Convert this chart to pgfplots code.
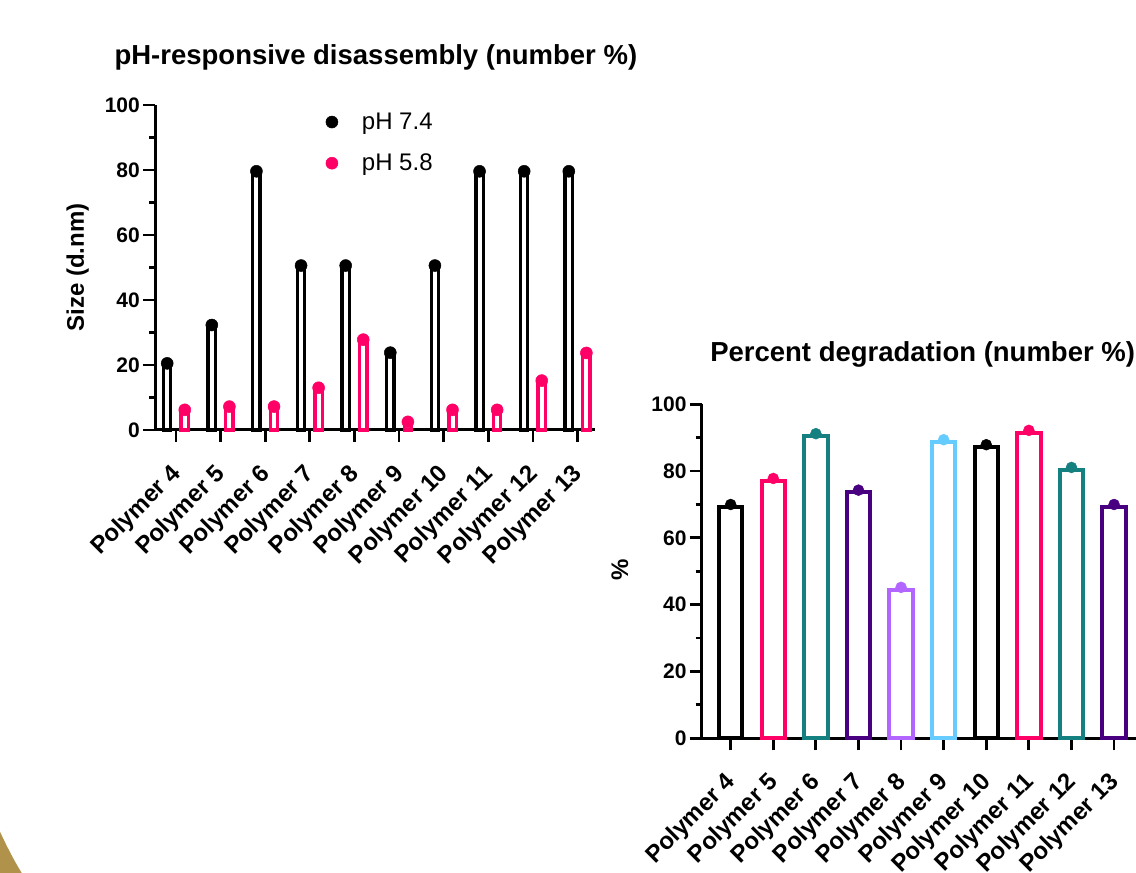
\documentclass[border=0pt]{standalone}
\usepackage{fontspec}
\setmainfont{Liberation Sans}
\usepackage{pgfplots}
\usepackage{pgfplotstable}
\pgfplotsset{compat=1.18}
\definecolor{pk}{RGB}{255,0,102}
\definecolor{tl}{RGB}{20,128,128}
\definecolor{pu}{RGB}{72,0,128}
\definecolor{lv}{RGB}{178,102,255}
\definecolor{lb}{RGB}{102,204,255}
\definecolor{gd}{RGB}{176,146,74}
\newcommand\fs[1]{\fontsize{#1}{#1}\selectfont}

\pgfplotstableread{
x b74 b58
0 20.5 6.2
1 32.3 7.2
2 79.6 7.2
3 50.6 13.0
4 50.6 27.8
5 23.8 2.5
6 50.6 6.2
7 79.6 6.2
8 79.6 15.2
9 79.6 23.7
}\phdata

\pgfplotsset{
  base/.style={
    scale only axis,
    axis x line=bottom, axis y line=left,
    axis line style={-, line width=3pt},
    tick align=outside,
    major tick length=12pt, minor tick length=6pt,
    every tick/.style={black, line width=2.8pt},
    minor y tick num=1,
    ymin=0, ymax=100, ytick={0,20,...,100},
    xtick={0,...,9},
    xticklabels={Polymer 4,Polymer 5,Polymer 6,Polymer 7,Polymer 8,Polymer 9,Polymer 10,Polymer 11,Polymer 12,Polymer 13},
    xticklabel style={rotate=45, anchor=north east, font=\fs{24}\bfseries, inner sep=2pt, xshift=-17pt, yshift=-7.5pt},
    yticklabel style={font=\fs{21}\bfseries, inner sep=3pt},
    /pgf/number format/assume math mode=true,
    clip=false,
  }
}

\begin{document}
\begin{tikzpicture}
\useasboundingbox (0pt,0pt) rectangle (1136pt,873pt);
\fill[gd] (0pt,41.3pt) .. controls (8pt,24pt) and (15pt,11pt) .. (21.7pt,0pt) -- (0pt,0pt) -- cycle;

\begin{axis}[base,
  at={(155pt,443pt)}, anchor=south west,
  width=440pt, height=325pt,
  xmin=-0.47, xmax=9.39,
  ylabel={Size (d.nm)},
  ylabel style={at={(axis description cs:-0.176,0.5)}, anchor=center, font=\fs{24}\bfseries},
  title={pH-responsive disassembly (number \%)},
  title style={at={(axis description cs:0.502,1.105)}, anchor=base, font=\fs{27.5}\bfseries},
  legend style={draw=none, fill=none, at={(axis description cs:0.388,0.982)}, anchor=north west,
    font=\fs{24}, row sep=19pt, column sep=22pt, inner sep=0pt},
  legend cell align=left,
  legend image code/.code={\draw[#1] plot coordinates {(0pt,0pt)};},
]
\addplot[ybar, bar width=7.3pt, bar shift=-8.8pt, draw=black, fill=white, line width=3.3pt, forget plot]
  table[x=x, y=b74] {\phdata};
\addplot[ybar, bar width=7.3pt, bar shift=8.8pt, draw=pk, fill=white, line width=3.3pt, forget plot]
  table[x=x, y=b58] {\phdata};
\addplot[only marks, mark=*, mark size=6pt, black, mark options={fill=black, draw=black, line width=0.5pt}]
  table[x expr=\thisrow{x}-0.197, y=b74] {\phdata};
\addlegendentry{pH 7.4}
\addplot[only marks, mark=*, mark size=6pt, pk, mark options={fill=pk, draw=pk, line width=0.5pt}]
  table[x expr=\thisrow{x}+0.197, y=b58] {\phdata};
\addlegendentry{pH 5.8}
\end{axis}

\begin{axis}[base,
  at={(701.7pt,134.7pt)}, anchor=south west,
  width=435.8pt, height=334pt,
  xmin=-0.68, xmax=9.55,
  ylabel={\%},
  ylabel style={at={(axis description cs:-0.188,0.504)}, anchor=center, font=\fs{24}\bfseries},
  title={Percent degradation (number \%)},
  title style={at={(axis description cs:0.507,1.11)}, anchor=base, font=\fs{27.5}\bfseries},
]
\addplot[ybar, bar width=23.5pt, draw=black, fill=white, line width=4pt] coordinates {(0,69.4)};
\addplot[only marks, mark=*, mark size=5.5pt, black, mark options={fill=black}] coordinates {(0,70.0)};
\addplot[ybar, bar width=23.5pt, draw=pk, fill=white, line width=4pt] coordinates {(1,77.1)};
\addplot[only marks, mark=*, mark size=5.5pt, pk, mark options={fill=pk}] coordinates {(1,77.8)};
\addplot[ybar, bar width=23.5pt, draw=tl, fill=white, line width=4pt] coordinates {(2,90.4)};
\addplot[only marks, mark=*, mark size=5.5pt, tl, mark options={fill=tl}] coordinates {(2,91.2)};
\addplot[ybar, bar width=23.5pt, draw=pu, fill=white, line width=4pt] coordinates {(3,73.6)};
\addplot[only marks, mark=*, mark size=5.5pt, pu, mark options={fill=pu}] coordinates {(3,74.3)};
\addplot[ybar, bar width=23.5pt, draw=lv, fill=white, line width=4pt] coordinates {(4,44.5)};
\addplot[only marks, mark=*, mark size=5.5pt, lv, mark options={fill=lv}] coordinates {(4,45.2)};
\addplot[ybar, bar width=23.5pt, draw=lb, fill=white, line width=4pt] coordinates {(5,88.8)};
\addplot[only marks, mark=*, mark size=5.5pt, lb, mark options={fill=lb}] coordinates {(5,89.4)};
\addplot[ybar, bar width=23.5pt, draw=black, fill=white, line width=4pt] coordinates {(6,87.3)};
\addplot[only marks, mark=*, mark size=5.5pt, black, mark options={fill=black}] coordinates {(6,87.9)};
\addplot[ybar, bar width=23.5pt, draw=pk, fill=white, line width=4pt] coordinates {(7,91.5)};
\addplot[only marks, mark=*, mark size=5.5pt, pk, mark options={fill=pk}] coordinates {(7,92.2)};
\addplot[ybar, bar width=23.5pt, draw=tl, fill=white, line width=4pt] coordinates {(8,80.4)};
\addplot[only marks, mark=*, mark size=5.5pt, tl, mark options={fill=tl}] coordinates {(8,81.1)};
\addplot[ybar, bar width=23.5pt, draw=pu, fill=white, line width=4pt] coordinates {(9,69.4)};
\addplot[only marks, mark=*, mark size=5.5pt, pu, mark options={fill=pu}] coordinates {(9,70.0)};
\end{axis}
\end{tikzpicture}
\end{document}
